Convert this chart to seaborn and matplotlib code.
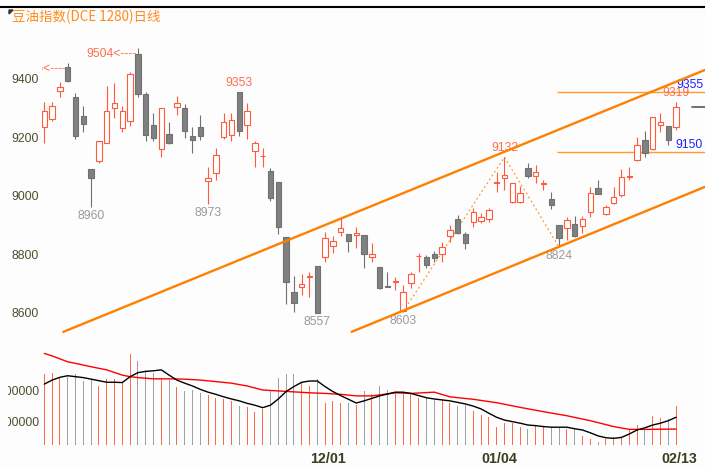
import numpy as np
import pandas as pd
import seaborn as sns
import matplotlib.pyplot as plt
from matplotlib.lines import Line2D
from matplotlib.patches import Polygon
from matplotlib.transforms import Bbox, TransformedBbox, ScaledTranslation

# daily candles (soybean oil index, DCE)
opens = [9234, 9261, 9359, 9439, 9336, 9272, 9090, 9119, 9181, 9299,
         9230, 9255, 9484, 9347, 9242, 9160, 9210, 9304, 9301, 9205,
         9234, 9051, 9078, 9200, 9207, 9353, 9242, 9153, 9135, 9084,
         9048, 8860, 8671, 8686, 8722, 8760, 8791, 8828, 8875, 8868,
         8865, 8865, 8791, 8755, 8691, 8705, 8606, 8700, 8792, 8791,
         8799, 8800, 8862, 8919, 8868, 8911, 8914, 8919, 9043, 9059,
         8979, 8977, 9093, 9068, 9041, 8987, 8900, 8888, 8903, 8896,
         8945, 9025, 8937, 8974, 9002, 9064, 9122, 9190, 9160, 9242,
         9239, 9236]
highs = [9319, 9321, 9388, 9455, 9350, 9308, 9090, 9188, 9375, 9384,
         9308, 9422, 9504, 9356, 9284, 9301, 9253, 9342, 9313, 9234,
         9276, 9097, 9164, 9284, 9284, 9353, 9318, 9187, 9164, 9093,
         9048, 8860, 8725, 8732, 8740, 8760, 8877, 8863, 8922, 8868,
         8894, 8865, 8837, 8757, 8740, 8723, 8694, 8740, 8803, 8797,
         8811, 8842, 8900, 8934, 8877, 8957, 8940, 8957, 9082, 9132,
         9042, 9033, 9111, 9105, 9053, 9013, 8900, 8928, 8931, 8930,
         9028, 9053, 8968, 9031, 9090, 9099, 9202, 9222, 9270, 9284,
         9239, 9319]
lows = [9179, 9255, 9338, 9390, 9194, 9219, 8960, 9113, 9179, 9265,
        9219, 9239, 9338, 9187, 9187, 9131, 9177, 9276, 9196, 9145,
        9190, 8973, 9053, 9193, 9187, 9205, 9194, 9099, 9099, 8983,
        8869, 8629, 8603, 8660, 8654, 8597, 8774, 8803, 8863, 8808,
        8820, 8751, 8774, 8680, 8687, 8677, 8603, 8683, 8740, 8751,
        8774, 8774, 8842, 8869, 8816, 8892, 8907, 8911, 9013, 9019,
        8976, 8974, 9059, 9042, 9019, 8953, 8824, 8848, 8860, 8871,
        8928, 9005, 8934, 8972, 8996, 9053, 9120, 9131, 9156, 9219,
        9173, 9224]
closes = [9290, 9307, 9371, 9393, 9205, 9244, 9061, 9188, 9290, 9316,
          9290, 9415, 9348, 9207, 9196, 9301, 9179, 9316, 9222, 9190,
          9204, 9059, 9139, 9251, 9259, 9222, 9290, 9179, 9137, 8993,
          8894, 8704, 8632, 8698, 8724, 8600, 8854, 8846, 8888, 8845,
          8871, 8800, 8800, 8683, 8689, 8707, 8671, 8732, 8794, 8763,
          8786, 8825, 8882, 8871, 8837, 8945, 8928, 8951, 9045, 9071,
          9042, 9009, 9067, 9082, 9043, 8968, 8854, 8917, 8863, 8920,
          9008, 9006, 8962, 8994, 9063, 9066, 9173, 9145, 9270, 9253,
          9190, 9304]
volumes = [351000, 356000, 340000, 343000, 351000, 330000, 335000, 313000, 335000, 335000,
           322000, 416000, 394000, 365000, 356000, 335000, 332000, 311000, 297000, 300000,
           291000, 284000, 275000, 271000, 265000, 248000, 246000, 228000, 238000, 298000,
           340000, 352000, 352000, 324000, 313000, 335000, 259000, 265000, 259000, 259000,
           252000, 297000, 287000, 313000, 300000, 289000, 295000, 291000, 273000, 273000,
           268000, 268000, 259000, 248000, 252000, 233000, 219000, 212000, 182000, 195000,
           193000, 182000, 173000, 184000, 182000, 176000, 176000, 173000, 173000, 152000,
           141000, 132000, 141000, 149000, 149000, 173000, 187000, 171000, 216000, 209000,
           205000, 248000]

# volume moving averages
vol_ma_short = [319000, 332000, 341000, 346000, 343000, 340000, 335000, 330000, 325000, 325000,
                324000, 343000, 356000, 360000, 362000, 365000, 348000, 332000, 322000, 313000,
                302000, 293000, 286000, 278000, 271000, 265000, 257000, 251000, 243000, 251000,
                271000, 295000, 311000, 325000, 329000, 329000, 311000, 295000, 282000, 270000,
                258000, 265000, 273000, 281000, 287000, 293000, 293000, 289000, 282000, 275000,
                271000, 268000, 265000, 260000, 255000, 248000, 239000, 225000, 212000, 203000,
                198000, 193000, 187000, 185000, 182000, 180000, 180000, 180000, 175000, 171000,
                162000, 152000, 146000, 144000, 147000, 158000, 171000, 178000, 187000, 193000,
                201000, 212000]
vol_ma_long_days = [0, 1, 3, 4, 6, 8, 10, 11, 12, 14, 16, 18, 20, 22, 24, 26, 28, 30, 32, 34,
                    36, 38, 40, 42, 45, 47, 50, 52, 55, 58, 61, 64, 67, 70, 73, 75, 77, 81]
vol_ma_long = [418000, 410000, 391000, 386000, 375000, 365000, 348000, 343000, 340000, 336000,
               336000, 335000, 332000, 327000, 322000, 313000, 300000, 297000, 294000, 291000,
               289000, 286000, 281000, 281000, 291000, 289000, 293000, 278000, 270000, 259000,
               244000, 230000, 217000, 201000, 182000, 173000, 173000, 174000]

date_ticks = [36, 58, 81]
date_labels = ['12/01', '01/04', '02/13']
price_ticks = [8600, 8800, 9000, 9200, 9400]
vol_ticks = [200000, 300000]
vol_labels = ['200000', '300000']

high_marks = [25, 59, 81]
low_marks = [6, 21, 35, 46, 66]
low_labels = ['8960', '8973', '8557', '8603', '8824']
arrow_marks = [3, 12]
zigzag_days = [46, 59, 66]

upper_x = [2.44, 84.7]
upper_y = [8534, 9430]
lower_x = [39.4, 84.7]
lower_y = [8534, 9030]
level_prices = [9355, 9150]
level_start = 65.7

RED = '#ff5a3c'
GRAY_EDGE = '#707070'
GRAY_FILL = '#808080'
SALMON = '#ff6e50'
ORANGE = '#ff8000'

sns.set_style('white')
plt.rcParams['font.family'] = ['Liberation Sans', 'DejaVu Sans']

W, H = 705, 470
fig = plt.figure(figsize=(W / 100, H / 100), dpi=100)
fig.patch.set_facecolor('#fdfdfd')
ax = fig.add_axes([42 / W, 1 - 345 / H, 663 / W, 337 / H])
axv = fig.add_axes([42 / W, 1 - 445 / H, 663 / W, 100 / H])
XLIM = (-0.295, 84.71)

days = np.arange(len(opens))
o = np.array(opens)
c = np.array(closes)
up = c >= o
edge_cols = np.where(up, RED, GRAY_EDGE)

# candles
ax.vlines(days, lows, highs, colors=edge_cols, lw=0.8, zorder=2)
ax.bar(days, np.abs(c - o), bottom=np.minimum(o, c), width=0.68,
       color=np.where(up, 'white', GRAY_FILL), edgecolor=edge_cols, lw=0.8, zorder=3)

# channel, levels, zigzag
ax.plot(upper_x, upper_y, color=ORANGE, lw=1.7, zorder=4)
ax.plot(lower_x, lower_y, color=ORANGE, lw=1.7, zorder=4)
ax.hlines(level_prices, level_start, XLIM[1], color='#ff9a2e', lw=1, zorder=1)
zz_y = [lows[zigzag_days[0]], highs[zigzag_days[1]], lows[zigzag_days[2]]]
ax.plot(zigzag_days, zz_y, color='#ff9933', lw=0.9, ls=(0, (1.5, 2.2)), zorder=1)
ax.axhline(closes[-1], xmin=0.98, xmax=1, color='#555555', lw=1.2)

for i in high_marks:
    ax.annotate(str(highs[i]), (i, highs[i]), xytext=(0, 3), textcoords='offset pixels',
                ha='center', va='bottom', color=SALMON, fontsize=8.7)
for i, lab in zip(low_marks, low_labels):
    ax.annotate(lab, (i, lows[i]), xytext=(0, -3), textcoords='offset pixels',
                ha='center', va='top', color='#9a9a9a', fontsize=8.7)
for i in arrow_marks:
    ax.annotate(f'{highs[i]}<----', (i - 0.15, highs[i]), xytext=(0, -6),
                textcoords='offset pixels', ha='right', va='center',
                color=SALMON, fontsize=8.7, clip_on=True)
for p in level_prices:
    ax.annotate(str(p), (0.997, p), xycoords=('axes fraction', 'data'), xytext=(0, 1),
                textcoords='offset pixels', ha='right', va='bottom', color='#2020ff', fontsize=8.7)

ax.set_xlim(*XLIM)
ax.set_ylim(8489, 9642)
ax.set_xticks([])
ax.set_yticks(price_ticks)
ax.tick_params(axis='y', length=0, pad=2, labelsize=8.7, labelcolor='#4d4d2e')
ax.set_facecolor('none')
for s in ax.spines.values():
    s.set_visible(False)

# volume panel
vol_df = pd.DataFrame({'day': days, 'volume': volumes, 'dir': np.where(up, 'up', 'down')})
sns.barplot(data=vol_df, x='day', y='volume', hue='dir',
            palette={'up': '#ff6a4a', 'down': '#a0a0a0'}, dodge=False, width=0.14,
            saturation=1, linewidth=0, legend=False, ax=axv)
sns.lineplot(x=vol_ma_long_days, y=vol_ma_long, color='#ff0000', lw=1, ax=axv)
sns.lineplot(x=days, y=vol_ma_short, color='#000000', lw=1, ax=axv)

axv.set_xlim(*XLIM)
axv.set_ylim(122576, 445176)
axv.set_xlabel('')
axv.set_ylabel('')
axv.set_yticks(vol_ticks, labels=vol_labels)
axv.set_xticks(date_ticks, labels=date_labels)
axv.tick_params(axis='y', length=0, pad=2, labelsize=8.7, labelcolor='#4d4d2e')
axv.tick_params(axis='x', length=0, pad=4.8, labelsize=10.3, labelcolor='#3d3d1f')
axv.set_facecolor('none')
for s in axv.spines.values():
    s.set_visible(False)
clip = TransformedBbox(Bbox([[8 / W, 0], [1, 1]]), fig.transFigure)
for lab in axv.get_yticklabels():
    lab.set_clip_box(clip)
    lab.set_clip_on(True)
shift = ScaledTranslation(0.03, 0, fig.dpi_scale_trans)
for lab in axv.get_xticklabels():
    lab.set_fontweight('bold')
    lab.set_transform(lab.get_transform() + shift)

# header
fig.add_artist(Line2D([0, 1], [1 - 6.5 / H] * 2, color='black', lw=1.5))
fig.add_artist(Polygon([[9 / W, 1 - 10 / H], [13 / W, 1 - 10 / H], [9 / W, 1 - 14 / H]],
                       closed=True, color='#333333'))
fig.text(12.3 / W, 1 - 17 / H, '豆油指数(DCE 1280)日线', ha='left', va='center',
         color='#ff8c1a', fontsize=9.7, family=['Noto Sans CJK SC', 'DejaVu Sans'])

fig.savefig('out.png', dpi=100, facecolor=fig.get_facecolor())
